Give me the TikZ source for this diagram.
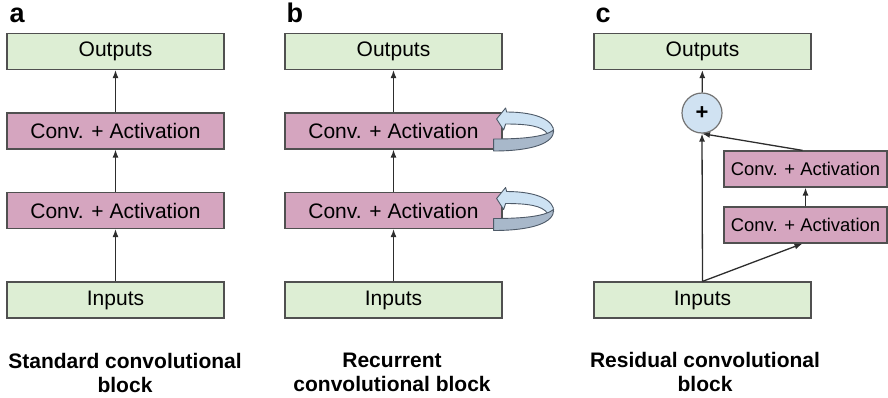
\documentclass[tikz,border=0pt]{standalone}
\usepackage{fontspec}
\setmainfont{Liberation Sans}
\usetikzlibrary{arrows.meta}
\definecolor{ioGreen}{RGB}{221,238,212}
\definecolor{convPink}{RGB}{213,165,191}
\definecolor{boxLine}{RGB}{80,80,80}
\definecolor{flowLine}{RGB}{45,45,45}
\definecolor{sumBlue}{RGB}{208,226,242}
\definecolor{bandLight}{RGB}{205,226,243}
\definecolor{bandDark}{RGB}{168,184,202}
\definecolor{bandLine}{RGB}{78,90,104}
\tikzset{
  block/.style={draw=boxLine, line width=1.2pt, inner sep=0pt, minimum height=36pt,
    font=\fontsize{21}{25}\selectfont},
  iobox/.style={block, fill=ioGreen, minimum width=217pt},
  convbox/.style={block, fill=convPink, minimum width=217pt},
  smallconv/.style={block, fill=convPink, minimum width=163pt, font=\fontsize{18.4}{22}\selectfont},
  sumnode/.style={circle, draw=boxLine!80, line width=1.2pt, fill=sumBlue, minimum size=40pt,
    inner sep=0pt, font=\bfseries\fontsize{22}{22}\selectfont},
  flow/.style={draw=flowLine, line width=1.3pt, -{Latex[length=8pt,width=6pt]}},
  panel/.style={font=\bfseries\fontsize{27}{27}\selectfont, anchor=base west},
  caption/.style={font=\bfseries\fontsize{21}{24}\selectfont, align=center, anchor=north,
    inner sep=0pt},
  loop arrow/.pic={
    % rear half of the ring, ending in the arrow head
    \filldraw[fill=bandLight, draw=bandLine, line width=0.9pt, line join=round]
      (51,1) .. controls (52,-10) and (35,-19) .. (4,-19) -- (3,-23) -- (-6,-12)
      -- (1,-1) -- (3,-7) .. controls (25,-7) and (40,-5) .. (45,3) -- cycle;
    % front half of the ring
    \filldraw[fill=bandDark, draw=bandLine, line width=0.9pt, line join=round]
      (-9,8) .. controls (20,8) and (42,6) .. (51,-1)
      .. controls (52,12) and (30,20) .. (-9,20) -- cycle;
  }
}
\begin{document}
\begin{tikzpicture}[x=1pt,y=-1pt]
\useasboundingbox (0,0) rectangle (888,397);

% panel labels
\node[panel] (la) at (6,22) {a};
\node[panel] (lb) at (283,22) {b};
\node[panel] (lc) at (592,22) {c};

% (a) standard block
\node[iobox]   (aout) at (115.5,51.5) {Outputs};
\node[convbox] (a1)   at (115.5,131)  {Conv. + Activation};
\node[convbox] (a2)   at (115.5,210.5){Conv. + Activation};
\node[iobox]   (ain)  at (115.5,300)  {Inputs};
\draw[flow] (ain) -- (a2);
\draw[flow] (a2) -- (a1);
\draw[flow] (a1) -- (aout);

% (b) recurrent block
\node[iobox]   (bout) at (393.5,51.5) {Outputs};
\node[convbox] (b1)   at (393.5,131)  {Conv. + Activation};
\node[convbox] (b2)   at (393.5,210.5){Conv. + Activation};
\node[iobox]   (bin)  at (393.5,300)  {Inputs};
\draw[flow] (bin) -- (b2);
\draw[flow] (b2) -- (b1);
\draw[flow] (b1) -- (bout);
\pic at (b1.east) {loop arrow};
\pic at (b2.east) {loop arrow};

% (c) residual block
\node[iobox]    (cout) at (702.5,51.5) {Outputs};
\node[sumnode]  (plus) at (702,113)    {+};
\node[smallconv](c1)   at (805.5,169)  {Conv. + Activation};
\node[smallconv](c2)   at (805.5,225)  {Conv. + Activation};
\node[iobox]    (cin)  at (702.5,300)  {Inputs};
\draw[flow] (cin.north) -- (plus.south);
\draw[flow] (cin.north) -- ([xshift=-3pt]c2.south);
\draw[flow] (c2) -- (c1);
\draw[flow] ([xshift=-3pt]c1.north) -- (plus.south);
\draw[flow] (plus) -- (cout);

% captions
\node[caption] (capa) at (125,353) {Standard convolutional\\block};
\node[caption] (capb) at (392,353) {Recurrent\\convolutional block};
\node[caption] (capc) at (705,352) {Residual convolutional\\block};
\end{tikzpicture}
\end{document}
